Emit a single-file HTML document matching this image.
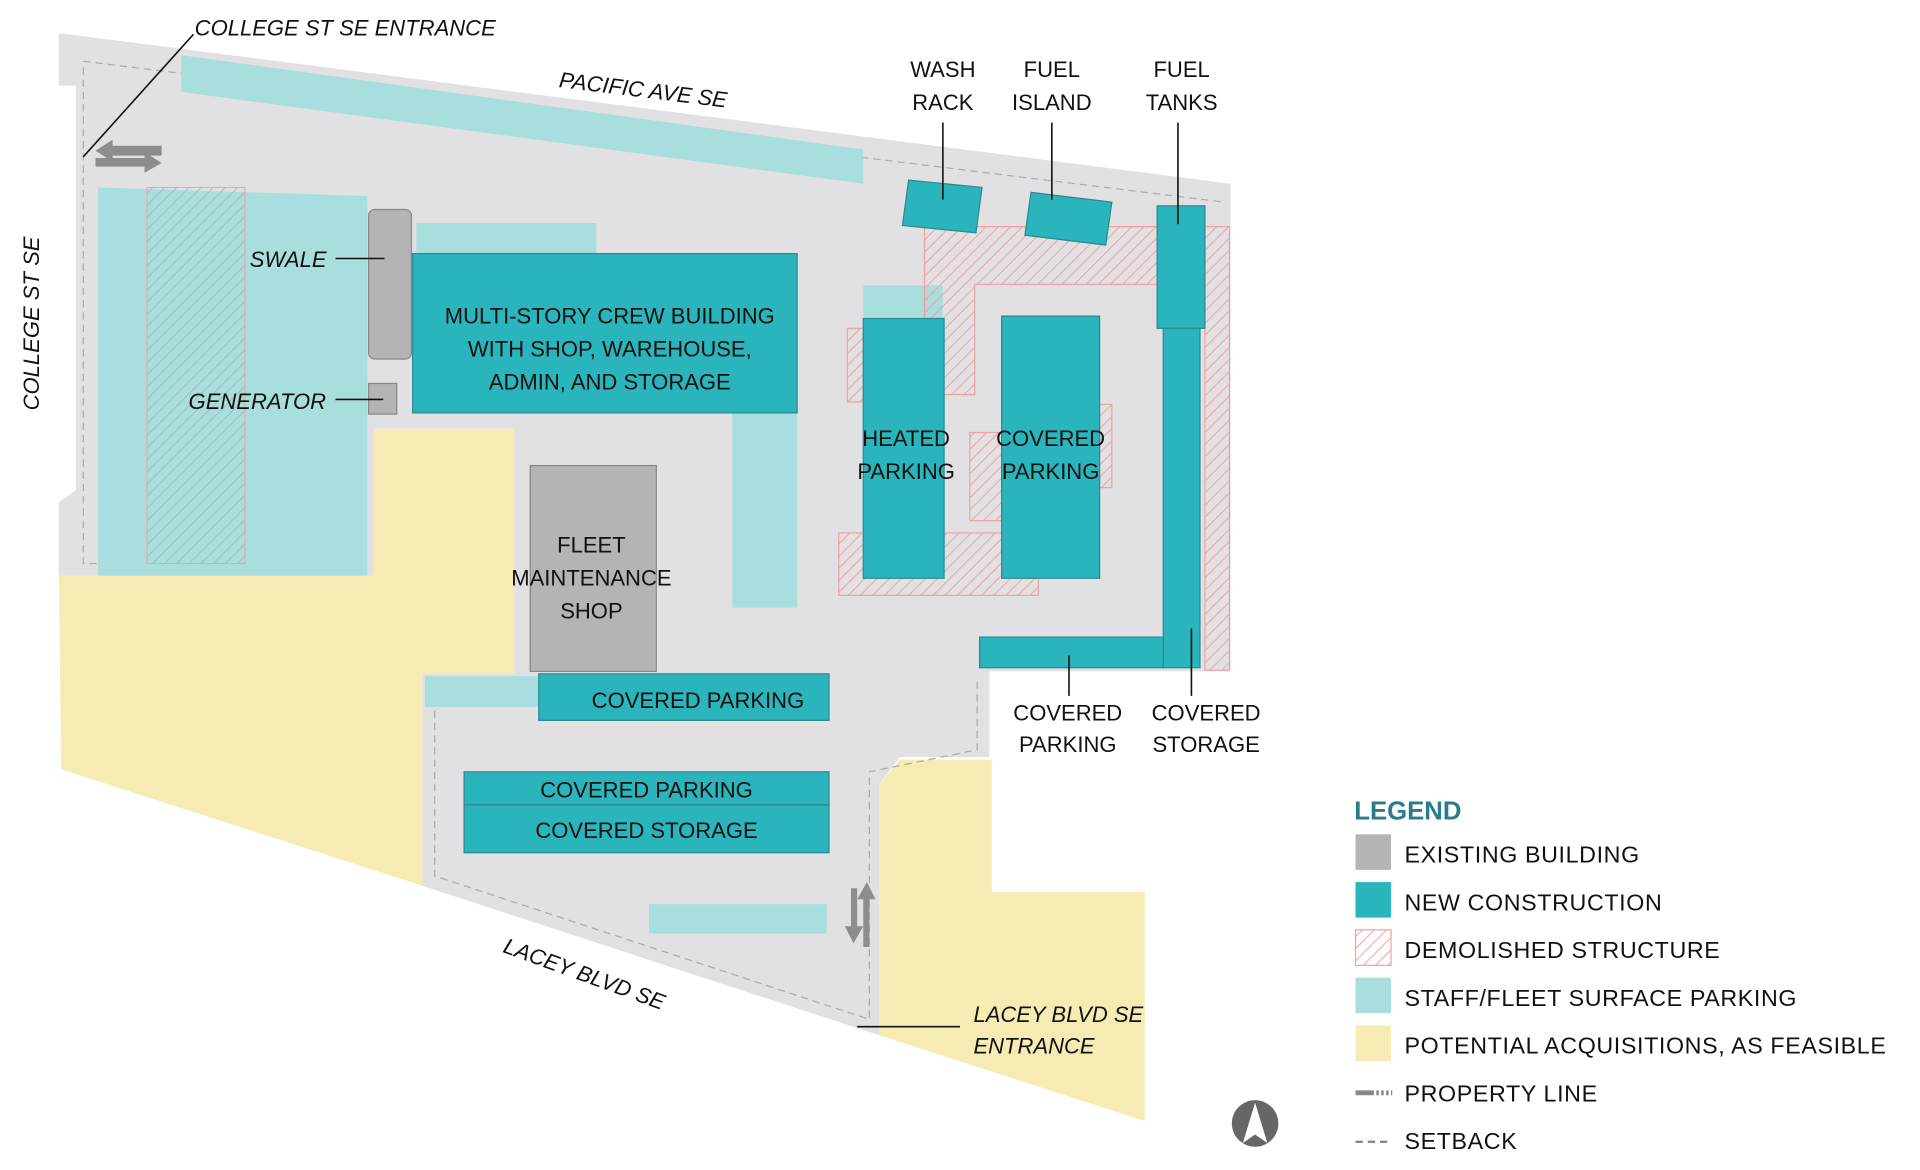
<!DOCTYPE html>
<html><head><meta charset="utf-8"><style>
html,body{margin:0;padding:0;background:#fff;}
svg{display:block;}
text{font-family:"Liberation Sans",sans-serif;}
</style></head><body>
<svg width="1920" height="1170" viewBox="0 0 1568 955" preserveAspectRatio="none" xmlns="http://www.w3.org/2000/svg">
<defs>
<pattern id="h" width="7" height="7" patternUnits="userSpaceOnUse" patternTransform="rotate(45)">
<rect width="7" height="7" fill="none"/><line x1="0" y1="0" x2="0" y2="7" stroke="#f2a0a0" stroke-width="1.6"/>
</pattern>
<pattern id="hg" width="7" height="7" patternUnits="userSpaceOnUse" patternTransform="rotate(45)">
<line x1="0" y1="0" x2="0" y2="7" stroke="#9fb8bb" stroke-width="1.4"/>
</pattern>
</defs>
<rect width="1568" height="955" fill="#fff"/>
<!-- yellow acquisitions -->
<polygon points="48,470 305,470 305,350 420,350 420,550 345,550 345,723 50,628" fill="#f5ebb3"/>
<polygon points="735,620 810,620 810,728 935,728 935,915 718,845 718,640" fill="#f5ebb3"/>
<!-- site -->
<polygon points="48,27 1005,150 1005,548 808,548 808,618 735,618 718,640 718,845 345,723 345,550 420,550 420,350 305,350 305,470 48,470 48,410 62,400 62,70 48,70" fill="#e1e1e3"/>
<polyline points="68,50 1000,165" fill="none" stroke="#aaa" stroke-width="1" stroke-dasharray="6,4"/>
<polyline points="68,55 68,460 300,460" fill="none" stroke="#aaa" stroke-width="1" stroke-dasharray="6,4"/>
<polyline points="355,560 355,715 710,832 710,630 798,612 798,555" fill="none" stroke="#aaa" stroke-width="1" stroke-dasharray="6,4"/>
<!-- light parking -->
<polygon points="148,45 705,122 705,150 148,75" fill="#a9dede"/>
<polygon points="80,153 300,160 300,470 80,470" fill="#a9dede"/>
<rect x="120" y="153" width="80" height="307" fill="url(#hg)" stroke="#f2a0a0" stroke-width="0.8"/>
<rect x="340" y="182" width="147" height="25" fill="#a9dede"/>
<rect x="598" y="337" width="53" height="159" fill="#a9dede"/>
<rect x="705" y="233" width="65" height="27" fill="#a9dede"/>
<rect x="530" y="738" width="145" height="24" fill="#a9dede"/>
<rect x="347" y="552" width="93" height="25" fill="#a9dede"/>
<!-- demolished -->
<g fill="url(#h)" stroke="#f2a0a0" stroke-width="1">
<polygon points="755,185 945,185 945,232 796,232 796,322 770,322 770,260 755,260"/>
<rect x="984" y="185" width="20" height="362"/>
<rect x="692" y="268" width="13" height="60"/>
<rect x="792" y="353" width="26" height="72"/>
<rect x="898" y="330" width="10" height="68"/>
<rect x="685" y="435" width="163" height="51"/>
</g>
<!-- existing -->
<g fill="#b4b4b6" stroke="#888" stroke-width="1">
<rect x="301" y="171" width="35" height="122" rx="5"/>
<rect x="301" y="313" width="23" height="25"/>
<rect x="433" y="380" width="103" height="168"/>
</g>
<!-- new -->
<g fill="#2ab4bb" stroke="#2a8a90" stroke-width="1">
<rect x="337" y="207" width="314" height="130"/>
<polygon points="742,147 802,153 797,190 737,184"/>
<polygon points="842,157 908,165 903,200 837,192"/>
<rect x="945" y="168" width="39" height="100"/>
<rect x="950" y="268" width="30" height="277"/>
<rect x="800" y="520" width="150" height="25"/>
<rect x="705" y="260" width="66" height="212"/>
<rect x="818" y="258" width="80" height="214"/>
<rect x="440" y="550" width="237" height="38"/>
<rect x="379" y="630" width="298" height="27"/>
<rect x="379" y="657" width="298" height="39"/>
</g>
<!-- arrows -->
<g fill="#8d8d8f">
<polygon points="78,123 92,114 92,119 132,119 132,127 92,127 92,132"/>
<polygon points="132,131 118,122 118,127 78,127 78,134 118,134 118,139" transform="translate(0,2)"/>
<polygon points="697,770 690,756 695,756 695,725 700,725 700,756 705,756" />
<polygon points="708,720 715,734 710,734 710,773 705,773 705,734 700,734"/>
</g>
<!-- leader lines -->
<g stroke="#111" stroke-width="1.3">
<line x1="68" y1="128" x2="158" y2="28"/>
<line x1="274" y1="211" x2="314" y2="211"/>
<line x1="274" y1="326" x2="313" y2="326"/>
<line x1="770" y1="100" x2="770" y2="163"/>
<line x1="859" y1="100" x2="859" y2="163"/>
<line x1="962" y1="100" x2="962" y2="183"/>
<line x1="873" y1="535" x2="873" y2="568"/>
<line x1="973" y1="513" x2="973" y2="568"/>
<line x1="700" y1="838" x2="784" y2="838"/>
</g>
<!-- labels -->
<g font-size="18" fill="#111">
<g font-style="italic">
<text x="159" y="29">COLLEGE ST SE ENTRANCE</text>
<text x="456" y="71" transform="rotate(7 456 71)">PACIFIC AVE SE</text>
<text x="32" y="335" transform="rotate(-90 32 335)">COLLEGE ST SE</text>
<text x="204" y="218">SWALE</text>
<text x="154" y="334">GENERATOR</text>
<text x="410" y="777" transform="rotate(20 410 777)">LACEY BLVD SE</text>
<text x="795" y="834">LACEY BLVD SE</text>
<text x="795" y="860">ENTRANCE</text>
</g>
<g text-anchor="middle">
<text x="770" y="63">WASH</text><text x="770" y="90">RACK</text>
<text x="859" y="63">FUEL</text><text x="859" y="90">ISLAND</text>
<text x="965" y="63">FUEL</text><text x="965" y="90">TANKS</text>
<text x="498" y="264">MULTI-STORY CREW BUILDING</text>
<text x="498" y="291">WITH SHOP, WAREHOUSE,</text>
<text x="498" y="318">ADMIN, AND STORAGE</text>
<text x="740" y="364">HEATED</text><text x="740" y="391">PARKING</text>
<text x="858" y="364">COVERED</text><text x="858" y="391">PARKING</text>
<text x="483" y="451">FLEET</text><text x="483" y="478">MAINTENANCE</text><text x="483" y="505">SHOP</text>
<text x="570" y="578">COVERED PARKING</text>
<text x="528" y="651">COVERED PARKING</text>
<text x="528" y="684">COVERED STORAGE</text>
<text x="872" y="588">COVERED</text><text x="872" y="614">PARKING</text>
<text x="985" y="588">COVERED</text><text x="985" y="614">STORAGE</text>
</g>
</g>
<!-- north -->
<circle cx="1025" cy="917" r="19" fill="#666"/>
<polygon points="1025,900 1035,933 1025,926 1015,933" fill="#fff"/>
<!-- legend -->
<text x="1106" y="669" font-size="21" font-weight="bold" fill="#2b7b8a">LEGEND</text>
<rect x="1107" y="681" width="29" height="29" fill="#b4b4b6"/>
<rect x="1107" y="720" width="29" height="29" fill="#2ab4bb"/>
<rect x="1107" y="759" width="29" height="29" fill="url(#h)" stroke="#f2a0a0"/>
<rect x="1107" y="798" width="29" height="29" fill="#a9dede"/>
<rect x="1107" y="837" width="29" height="29" fill="#f5ebb3"/>
<line x1="1107" y1="892" x2="1122" y2="892" stroke="#888" stroke-width="4"/>
<line x1="1124" y1="892" x2="1137" y2="892" stroke="#888" stroke-width="4" stroke-dasharray="2,2"/>
<line x1="1107" y1="932" x2="1137" y2="932" stroke="#888" stroke-width="2" stroke-dasharray="6,4"/>
<g font-size="19" fill="#111" letter-spacing="0.5">
<text x="1147" y="704">EXISTING BUILDING</text>
<text x="1147" y="743">NEW CONSTRUCTION</text>
<text x="1147" y="782">DEMOLISHED STRUCTURE</text>
<text x="1147" y="821">STAFF/FLEET SURFACE PARKING</text>
<text x="1147" y="860">POTENTIAL ACQUISITIONS, AS FEASIBLE</text>
<text x="1147" y="899">PROPERTY LINE</text>
<text x="1147" y="938">SETBACK</text>
</g>
</svg>
</body></html>
